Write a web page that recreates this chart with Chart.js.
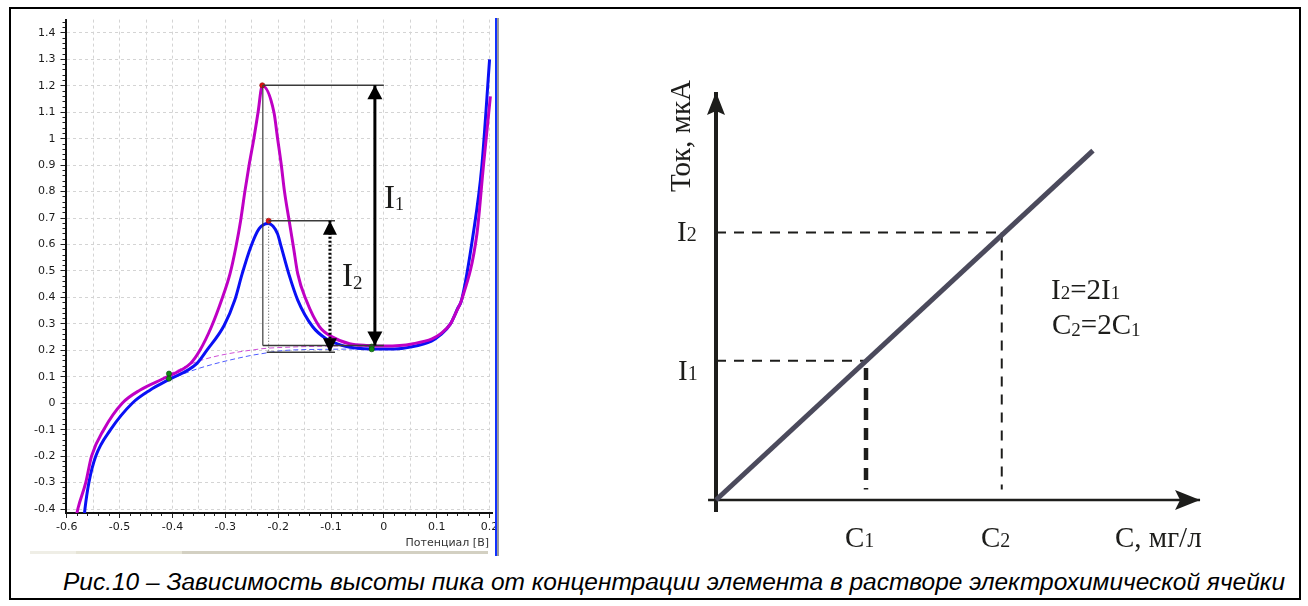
<!DOCTYPE html>
<html lang="ru">
<head>
<meta charset="UTF-8">
<title>Зависимость высоты пика от концентрации</title>
<script src="https://cdn.jsdelivr.net/npm/chart.js"></script>
<style>
    body { margin: 0; background: #fff; }
    #page { position: relative; width: 1308px; height: 606px; overflow: hidden; background: #fff; }
    #frame { position: absolute; left: 9px; top: 7px; width: 1288px; height: 589px; border: 2px solid #000; }
    canvas { position: absolute; }
    #volt { left: 12px; top: 8px; }
    #calib { left: 646px; top: 44px; }
    .lbl { position: absolute; white-space: nowrap; line-height: 1; color: #1d1d1b; font-family: "Liberation Serif", "Times New Roman", serif; }
    .lbl span { position: relative; }
    #split1 { position: absolute; left: 495px; top: 18px; width: 2px; height: 538px; background: #1030ff; }
    #split2 { position: absolute; left: 497px; top: 18px; width: 2px; height: 538px; background: #9a9a9a; }
    #strip { position: absolute; left: 30px; top: 551px; width: 458px; height: 3px;
             background: linear-gradient(to right, #efeee6 0, #efeee6 46px, #e6e4d6 46px, #e6e4d6 152px, #d3d0c2 152px); }
    #caption { position: absolute; left: 63px; white-space: nowrap; line-height: 1; transform-origin: 0 0;
               font: italic 23px "Liberation Sans Narrow", "Liberation Sans", Arial, sans-serif; color: #000; }
</style>
</head>
<body>
<div id="page">
    <div id="frame"></div>
    <canvas id="volt" width="490" height="552"></canvas>
    <canvas id="calib" width="590" height="522"></canvas>
    <div id="split1"></div>
    <div id="split2"></div>
    <div id="strip"></div>

    <div class="lbl" style="left:384px; top:181px; font-size:33px">I<span style="font-size:18px; top:2px">1</span></div>
    <div class="lbl" style="left:342px; top:259px; font-size:33px">I<span style="font-size:19px; top:3px">2</span></div>

    <div class="lbl" style="left:666px; top:192px; font-size:29px; transform-origin:0 0; transform:rotate(-90deg)">Ток, мкА</div>
    <div class="lbl" style="left:677px; top:217px; font-size:29px">I<span style="font-size:20px">2</span></div>
    <div class="lbl" style="left:678px; top:356px; font-size:29px">I<span style="font-size:20px">1</span></div>
    <div class="lbl" style="left:1051px; top:275px; font-size:29px">I<span style="font-size:19px">2</span>=2I<span style="font-size:19px">1</span></div>
    <div class="lbl" style="left:1052px; top:310px; font-size:29px">C<span style="font-size:19px; top:2px">2</span>=2C<span style="font-size:19px; top:2px">1</span></div>
    <div class="lbl" style="left:845px; top:523px; font-size:29px">C<span style="font-size:20px">1</span></div>
    <div class="lbl" style="left:981px; top:523px; font-size:29px">C<span style="font-size:20px">2</span></div>
    <div class="lbl" style="left:1115px; top:523px; font-size:29px">С, мг/л</div>

    <div id="caption">Рис.10 – Зависимость высоты пика от концентрации элемента в растворе электрохимической ячейки</div>
</div>

<script>
    // --- вольтамперограммы: потенциал, В / ток ---
    const potA = [-0.582, -0.579, -0.564, -0.553, -0.530, -0.495, -0.461, -0.410, -0.366, -0.348, -0.326, -0.307, -0.291, -0.280, -0.271, -0.263, -0.255, -0.246, -0.238, -0.230, -0.208, -0.201, -0.194, -0.188, -0.180, -0.171, -0.163, -0.147, -0.122, -0.097, -0.065, -0.030, 0.000, 0.030, 0.053, 0.091, 0.107, 0.126, 0.138, 0.147, 0.176, 0.188, 0.2015];
    const curA = [-0.43, -0.40, -0.30, -0.20, -0.10, 0.00, 0.05, 0.10, 0.15, 0.20, 0.29, 0.39, 0.49, 0.59, 0.69, 0.80, 0.90, 1.00, 1.10, 1.20, 1.10, 1.00, 0.90, 0.80, 0.70, 0.59, 0.49, 0.39, 0.29, 0.25, 0.225, 0.218, 0.216, 0.218, 0.224, 0.243, 0.262, 0.30, 0.35, 0.39, 0.64, 0.89, 1.16];

    const potB = [-0.567, -0.5655, -0.558, -0.545, -0.517, -0.476, -0.442, -0.406, -0.354, -0.335, -0.302, -0.282, -0.268, -0.252, -0.236, -0.219, -0.210, -0.201, -0.194, -0.180, -0.163, -0.135, -0.110, -0.078, -0.050, -0.024, 0.020, 0.050, 0.090, 0.107, 0.126, 0.140, 0.147, 0.169, 0.185, 0.200];
    const curB = [-0.43, -0.40, -0.30, -0.20, -0.10, 0.00, 0.05, 0.09, 0.15, 0.20, 0.295, 0.39, 0.49, 0.59, 0.66, 0.68, 0.67, 0.64, 0.59, 0.49, 0.39, 0.29, 0.245, 0.218, 0.208, 0.205, 0.205, 0.212, 0.235, 0.258, 0.30, 0.36, 0.39, 0.64, 0.89, 1.30];

    // базовые линии (пунктир)
    const basePotA = [-0.406, -0.348, -0.235, -0.191, -0.100, -0.024];
    const baseCurA = [0.11, 0.161, 0.205, 0.211, 0.216, 0.217];
    const basePotB = [-0.406, -0.348, -0.253, -0.235, -0.191, -0.100, -0.024];
    const baseCurB = [0.09, 0.133, 0.180, 0.186, 0.199, 0.204, 0.205];

    // вершины пиков и точки базовой линии
    const peakPot = [-0.230, -0.218];
    const peakCur = [1.202, 0.690];
    const markPot = [-0.4065, -0.4065, -0.023, -0.023];
    const markCur = [0.112, 0.093, 0.214, 0.204];

    // высоты пиков I1, I2
    const h1Pot = [-0.229, 0.0, -0.017];   // левый край, правый край, стрелка
    const h1Cur = [1.202, 0.218];          // верх, низ
    const h2Pot = [-0.218, -0.0925, -0.102];
    const h2Cur = [0.690, 0.193];
    const h2BaseLeft = -0.2217;

    // оси левого графика
    const potRange = [-0.6023, 0.2055];
    const curRange = [-0.4151, 1.4505];

    // --- градуировочный график ---
    const concLine = [0, 2.513];
    const curLine = [0, 2.508];
    const concMarks = [1.0, 1.905];        // C1, C2
    const curMarks = [1.0, 1.92];          // I1, I2
    const dropBottom = 0.075;
    const c1DropTop = 0.948;
    const concAxis = [-0.053, 3.227];
    const curAxis = [-0.086, 2.929];

    const xy = (xs, ys) => xs.map((x, i) => ({ x, y: ys[i] }));
    const seg = (x1, y1, x2, y2) => [{ x: x1, y: y1 }, { x: x2, y: y2 }];

    const arrowHeads = {
        id: 'arrowHeads',
        afterDatasetsDraw(chart) {
            const ctx = chart.ctx;
            chart.data.datasets.forEach((ds, i) => {
                if (!ds.heads) return;
                const pts = chart.getDatasetMeta(i).data;
                const n = pts.length;
                if (n < 2) return;
                const h = ds.heads;
                const draw = (tip, from) => {
                    const dx = tip.x - from.x, dy = tip.y - from.y;
                    const d = Math.hypot(dx, dy) || 1;
                    const ux = dx / d, uy = dy / d, nx = -uy, ny = ux;
                    const bx = tip.x - ux * h.len, by = tip.y - uy * h.len;
                    const notch = h.notch || 0;
                    ctx.save();
                    ctx.fillStyle = h.color;
                    ctx.beginPath();
                    ctx.moveTo(tip.x, tip.y);
                    ctx.lineTo(bx + nx * h.width / 2, by + ny * h.width / 2);
                    ctx.lineTo(tip.x - ux * (h.len - notch), tip.y - uy * (h.len - notch));
                    ctx.lineTo(bx - nx * h.width / 2, by - ny * h.width / 2);
                    ctx.closePath();
                    ctx.fill();
                    ctx.restore();
                };
                if (h.end) draw(pts[n - 1], pts[n - 2]);
                if (h.start) draw(pts[0], pts[1]);
            });
        }
    };

    const tickLabel = v => {
        const k = Math.round(v * 10);
        if (Math.abs(v * 10 - k) > 1e-6) return '';
        return String(k / 10);
    };
    const isMajor = v => Math.abs(v * 10 - Math.round(v * 10)) < 1e-6;
    const axisFont = { family: 'DejaVu Sans', size: 11 };
    const thin = '#3a3a3a';

    const line = (data, color, width, extra) => Object.assign({
        data, borderColor: color, borderWidth: width, pointRadius: 0, fill: false, tension: 0
    }, extra || {});

    new Chart(document.getElementById('volt'), {
        type: 'line',
        data: {
            datasets: [
                line(seg(h1Pot[2], h1Cur[0], h1Pot[2], h1Cur[1]), '#000', 3,
                    { heads: { start: true, end: true, len: 14, width: 15, color: '#000' } }),
                line(seg(h2Pot[2], h2Cur[0], h2Pot[2], h2Cur[1]), '#000', 3,
                    { borderDash: [2, 2], heads: { start: true, end: true, len: 14, width: 14, color: '#000' } }),
                line(seg(h1Pot[0], h1Cur[0], h1Pot[1], h1Cur[0]), thin, 1.5),
                line(seg(h1Pot[0], h1Cur[1], h1Pot[1], h1Cur[1]), thin, 1.5),
                line(seg(h1Pot[0], h1Cur[0], h1Pot[0], h1Cur[1]), thin, 1.2),
                line(seg(h2Pot[0], h2Cur[0], h2Pot[1], h2Cur[0]), thin, 1.5),
                line(seg(h2BaseLeft, h2Cur[1], h2Pot[1], h2Cur[1]), thin, 1.5),
                line(seg(h2Pot[0], h2Cur[0], h2Pot[0], h2Cur[1]), '#555', 1, { borderDash: [1, 2] }),
                { data: xy(peakPot, peakCur), showLine: false, pointRadius: 2.6, pointBackgroundColor: '#e01010', pointBorderColor: '#901010', pointBorderWidth: 0.6 },
                { data: xy(markPot, markCur), showLine: false, pointRadius: 2.6, pointBackgroundColor: '#138a13', pointBorderColor: '#0a4a0a', pointBorderWidth: 0.6 },
                line(xy(potA, curA), '#bf00c4', 3, { cubicInterpolationMode: 'monotone' }),
                line(xy(potB, curB), '#0a10f5', 3, { cubicInterpolationMode: 'monotone' }),
                line(xy(basePotA, baseCurA), '#cf4fd6', 1, { borderDash: [5, 3], cubicInterpolationMode: 'monotone' }),
                line(xy(basePotB, baseCurB), '#4f5cff', 1, { borderDash: [5, 3], cubicInterpolationMode: 'monotone' })
            ]
        },
        options: {
            responsive: false,
            animation: false,
            events: [],
            layout: { padding: { left: 0, right: 9.5, top: 10.3, bottom: 10 } },
            plugins: { legend: { display: false }, tooltip: { enabled: false } },
            scales: {
                xMinor: {
                    type: 'linear', position: 'bottom', weight: 0,
                    min: potRange[0], max: potRange[1],
                    afterFit: s => { s.height = 0; },
                    ticks: { stepSize: 0.02, display: false, includeBounds: false, autoSkip: false },
                    grid: { drawOnChartArea: false, tickLength: 3, tickColor: '#222', tickWidth: 1 },
                    border: { display: false }
                },
                x: {
                    type: 'linear', position: 'bottom', weight: 1,
                    min: potRange[0], max: potRange[1],
                    afterFit: s => { s.height = 37; },
                    ticks: { stepSize: 0.05, includeBounds: false, autoSkip: false, maxRotation: 0, padding: 3,
                             color: '#1a1a1a', font: axisFont, callback: tickLabel },
                    grid: { color: '#d4d4d4', tickLength: 5, tickWidth: 1,
                            tickColor: c => isMajor(c.tick.value) ? '#222' : 'rgba(0,0,0,0)' },
                    border: { color: '#111', width: 2, dash: [3, 3] },
                    title: { display: true, text: 'Потенциал [В]\u00a0', align: 'end', padding: 0, color: '#333', font: axisFont }
                },
                yMinor: {
                    type: 'linear', position: 'left', weight: 0,
                    min: curRange[0], max: curRange[1],
                    afterFit: s => { s.width = 0; },
                    ticks: { stepSize: 0.02, display: false, includeBounds: false, autoSkip: false },
                    grid: { drawOnChartArea: false, tickLength: 3, tickColor: '#222', tickWidth: 1 },
                    border: { display: false }
                },
                y: {
                    type: 'linear', position: 'left', weight: 1,
                    min: curRange[0], max: curRange[1],
                    afterFit: s => { s.width = 53.5; },
                    ticks: { stepSize: 0.1, includeBounds: false, autoSkip: false, padding: 5,
                             color: '#1a1a1a', font: axisFont, callback: tickLabel },
                    grid: { color: '#d4d4d4', tickLength: 5, tickColor: '#222', tickWidth: 1 },
                    border: { color: '#111', width: 2, dash: [3, 3] }
                }
            }
        },
        plugins: [arrowHeads]
    });

    const ink = '#1d1d1b';
    new Chart(document.getElementById('calib'), {
        type: 'line',
        data: {
            datasets: [
                line(xy(concLine, curLine), '#4b4a5c', 5),
                line(seg(0, curMarks[0], concMarks[0], curMarks[0]), ink, 2, { borderDash: [10, 8] }),
                line(seg(0, curMarks[1], concMarks[1], curMarks[1]), ink, 2, { borderDash: [10, 8] }),
                line(seg(concMarks[1], curMarks[1], concMarks[1], dropBottom), ink, 2, { borderDash: [10, 8] }),
                line(seg(concMarks[0], c1DropTop, concMarks[0], dropBottom), ink, 4.5, { borderDash: [12, 8] }),
                line(seg(0, curAxis[0], 0, curAxis[1]), ink, 4,
                    { heads: { end: true, len: 23, width: 18, notch: 4, color: ink } }),
                line(seg(concAxis[0], 0, concAxis[1], 0), ink, 2.5,
                    { heads: { end: true, len: 25, width: 20, notch: 5, color: ink } })
            ]
        },
        options: {
            responsive: false,
            animation: false,
            events: [],
            layout: { padding: { left: 10, right: 10, top: 10.24, bottom: 10.28 } },
            plugins: { legend: { display: false }, tooltip: { enabled: false } },
            scales: {
                x: { type: 'linear', display: false, min: -0.4, max: 3.4 },
                y: { type: 'linear', display: false, min: -0.4, max: 3.2 }
            }
        },
        plugins: [arrowHeads]
    });

    // подпись: подгоняем ширину под исходную
    const cap = document.getElementById('caption');
    cap.style.top = (589 - 0.86 * 23) + 'px';
    const w = cap.getBoundingClientRect().width;
    cap.style.transform = 'scaleX(' + (1222 / w) + ')';
</script>
</body>
</html>
